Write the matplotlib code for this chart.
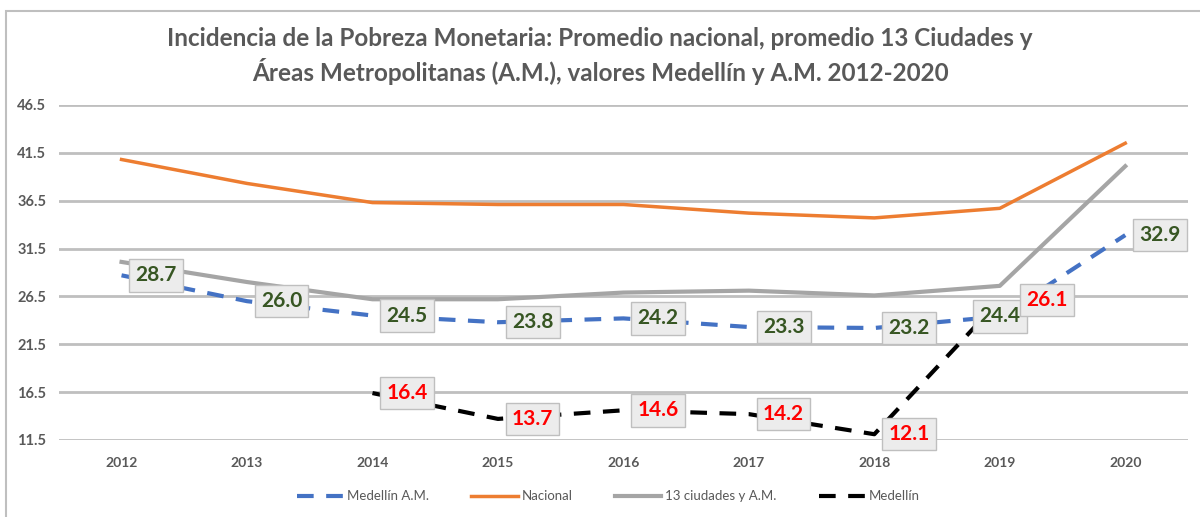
import matplotlib.pyplot as plt
from matplotlib.patches import Rectangle

anios = [2012, 2013, 2014, 2015, 2016, 2017, 2018, 2019, 2020]
medellin_am = [28.7, 26.0, 24.5, 23.8, 24.2, 23.3, 23.2, 24.4, 32.9]
nacional = [40.8, 38.3, 36.3, 36.1, 36.1, 35.2, 34.7, 35.7, 42.5]
ciudades_13 = [30.1, 28.0, 26.2, 26.2, 26.9, 27.1, 26.6, 27.6, 40.1]
medellin = [None, None, 16.4, 13.7, 14.6, 14.2, 12.1, 26.1, None]
yticks = [11.5, 16.5, 21.5, 26.5, 31.5, 36.5, 41.5, 46.5]

titulo = ("Incidencia de la Pobreza Monetaria: Promedio nacional, promedio 13 Ciudades y\n"
          "Áreas Metropolitanas (A.M.), valores Medellín y A.M. 2012-2020")

plt.rcParams['font.family'] = ['Lato', 'DejaVu Sans']
gris_txt = '#595959'

fig = plt.figure(figsize=(12, 5.17), dpi=100)
ax = fig.add_axes([0.049, 0.149, 0.941, 0.648])

# marco del grafico
fig.patches.append(Rectangle((0.005, -0.01), 1.0, 0.988, transform=fig.transFigure,
                             fill=False, edgecolor='#bfbfbf', linewidth=1.5))

x = list(range(len(anios)))
xm = [i for i, v in zip(x, medellin) if v is not None]
ym = [v for v in medellin if v is not None]

ax.plot(x, nacional, color='#ED7D31', linewidth=2.5, label='Nacional', zorder=3)
ax.plot(x, ciudades_13, color='#A5A5A5', linewidth=3, label='13 ciudades y A.M.', zorder=3)
ax.plot(x, medellin_am, color='#4472C4', linewidth=3, linestyle=(0, (4, 3)),
        label='Medellín A.M.', zorder=4)
ax.plot(xm, ym, color='black', linewidth=3, linestyle=(0, (4, 3)),
        label='Medellín', zorder=4)

caja = dict(boxstyle='square,pad=0.3', facecolor='#ececec', edgecolor='#bfbfbf', linewidth=1)

for i, v in zip(x, medellin_am):
    dx, ha = 10, 'left'
    if anios[i] == 2019:
        dx, ha = 0, 'center'
    ax.annotate(f"{v:.1f}", (i, v), xytext=(dx, 0), textcoords='offset points',
                ha=ha, va='center', fontsize=15, fontweight='bold', color='#375623',
                bbox=caja, zorder=6)

for i, v in zip(xm, ym):
    dx = 10
    if anios[i] == 2019:
        dx = 19
    ax.annotate(f"{v:.1f}", (i, v), xytext=(dx, 0), textcoords='offset points',
                ha='left', va='center', fontsize=15, fontweight='bold', color='#FF0000',
                bbox=caja, zorder=7)

ax.set_xlim(-0.5, len(anios) - 0.5)
ax.set_ylim(11.5, 46.5)
ax.set_yticks(yticks)
ax.set_yticklabels([f"{t:.1f}" for t in yticks])
ax.set_xticks(x)
ax.set_xticklabels([str(a) for a in anios])
ax.tick_params(axis='x', length=0, labelsize=10, labelcolor=gris_txt, pad=12)
ax.tick_params(axis='y', length=0, labelsize=10.5, labelcolor=gris_txt, pad=9)
for lbl in ax.get_xticklabels() + ax.get_yticklabels():
    lbl.set_fontweight('bold')
ax.grid(axis='y', color='#bfbfbf', linewidth=2)
ax.set_axisbelow(True)
for s in ax.spines.values():
    s.set_visible(False)

fig.text(0.5, 0.892, titulo, ha='center', va='center', fontsize=17.5, fontweight='bold',
         color=gris_txt, linespacing=1.35)

handles, labels = ax.get_legend_handles_labels()
orden = [2, 0, 1, 3]
fig.legend([handles[k] for k in orden], [labels[k] for k in orden], loc='center',
           bbox_to_anchor=(0.507, 0.04), ncol=4, frameon=False, fontsize=9.5,
           labelcolor=gris_txt, handlelength=3.5, handletextpad=0.3, columnspacing=3.2)

fig.savefig('out.png', dpi=100)
